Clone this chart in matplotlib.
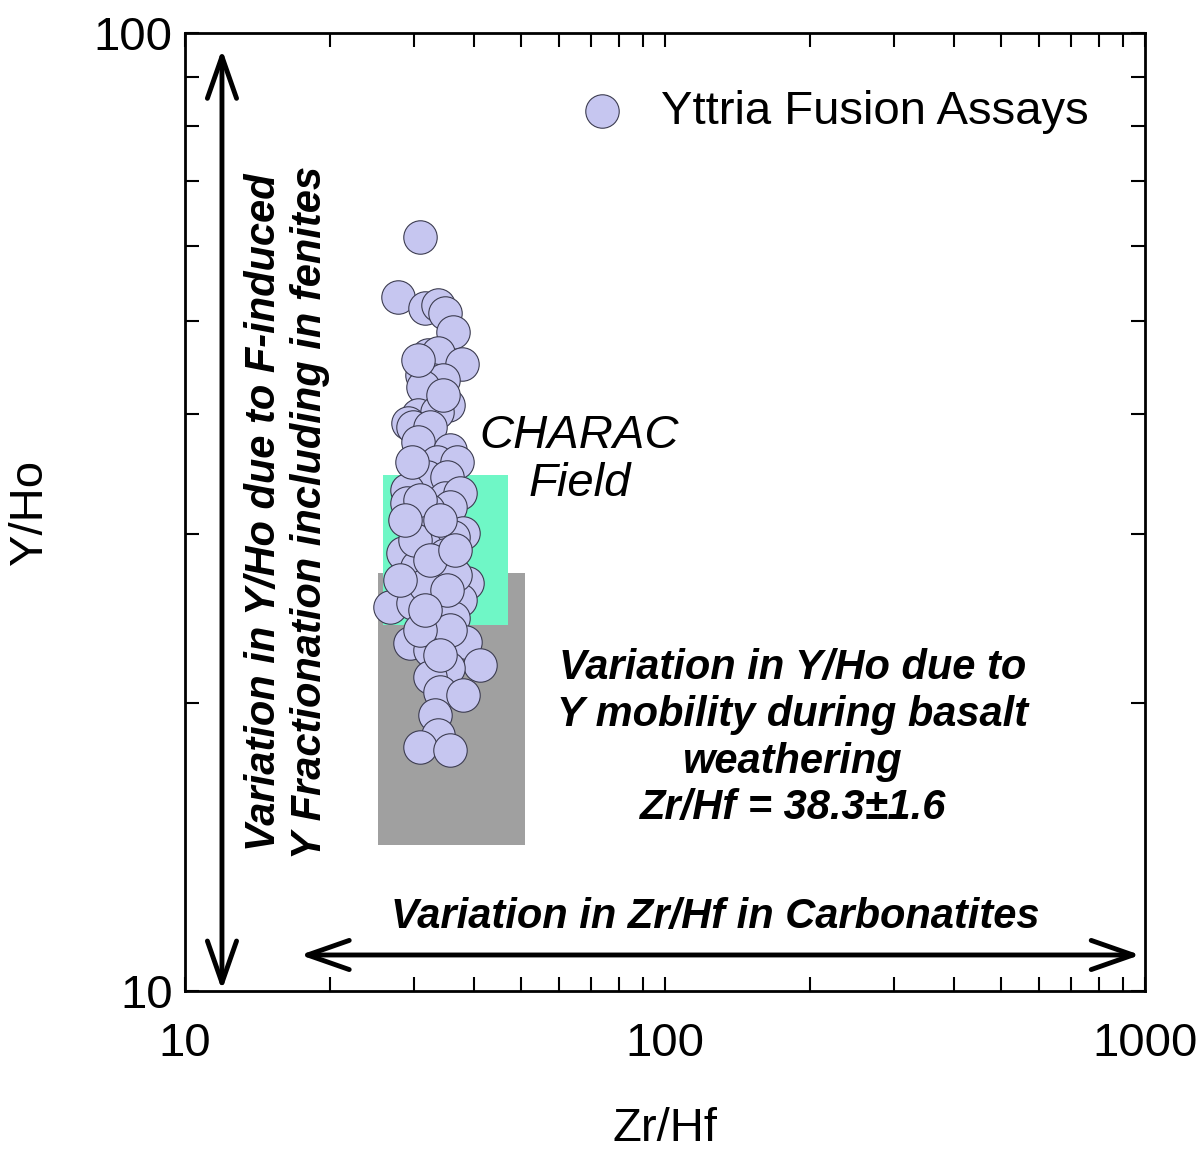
import numpy as np
import matplotlib
matplotlib.use("Agg")
import matplotlib.pyplot as plt
from matplotlib.patches import Rectangle
from matplotlib.ticker import NullFormatter

plt.rcParams['font.family'] = ['Liberation Sans', 'DejaVu Sans']

# Yttria fusion assays (Zr/Hf, Y/Ho)
zr_hf = [30.87, 27.79, 31.62, 33.66, 34.81, 36.17, 32.08, 33.66, 37.77, 31.17,
         32.86, 34.48, 31.32, 35.32, 30.58, 33.50, 29.15, 29.85, 32.39, 30.58,
         35.66, 33.50, 36.87, 31.92, 35.15, 29.01, 34.81, 37.41, 29.01, 35.66,
         30.58, 37.95, 36.17, 31.62, 28.46, 33.98, 30.43, 35.66, 38.68, 29.01,
         33.50, 26.73, 29.85, 33.98, 37.41, 33.17, 36.17, 29.43, 32.39, 38.31,
         41.17, 35.32, 32.39, 33.98, 37.95, 33.17, 33.66, 30.87, 35.66,
         32.08, 34.81, 31.62, 36.52, 30.14, 35.66, 30.87, 33.98, 29.71, 28.05,
         30.58, 34.48, 30.87, 33.98, 32.39, 35.15, 31.62, 28.73, 36.52]
y_ho = [61.24, 53.03, 51.64, 52.02, 51.03, 48.74, 46.12, 46.35, 45.14, 43.96,
        43.43, 43.43, 42.70, 40.90, 39.94, 40.22, 39.17, 38.80, 38.80, 37.42,
        36.71, 35.67, 35.67, 34.40, 34.40, 33.34, 32.71, 33.11, 32.32, 32.01,
        30.65, 30.07, 29.79, 29.08, 28.66, 27.98, 27.71, 27.65, 26.67, 26.41,
        26.22, 25.17, 25.41, 25.78, 25.59, 24.39, 24.51, 23.08, 22.70, 23.14,
        21.89, 21.74, 21.27, 20.52, 20.37, 19.41, 18.50, 17.98, 17.85,
        31.78, 28.52, 26.53, 27.18, 29.57, 23.82, 23.82, 22.43, 35.67, 26.86,
        45.58, 41.89, 32.55, 31.02, 28.18, 26.22, 24.99, 31.02, 28.86]

# fields: (x0, x1, y0, y1)
basalt_field = (25.2, 51.1, 14.2, 27.3)
charac_field = (25.85, 47.1, 24.1, 34.6)

fig = plt.figure(figsize=(11.99, 11.51), dpi=100)
ax = fig.add_axes([0.1543, 0.139, 0.8007, 0.8323])
ax.set_xscale('log')
ax.set_yscale('log')
ax.set_xlim(10, 1000)
ax.set_ylim(10, 100)

x0, x1, y0, y1 = basalt_field
ax.add_patch(Rectangle((x0, y0), x1 - x0, y1 - y0, facecolor='#a0a0a0', edgecolor='none', zorder=1))
x0, x1, y0, y1 = charac_field
ax.add_patch(Rectangle((x0, y0), x1 - x0, y1 - y0, facecolor='#6ff7c6', edgecolor='none', zorder=2))

ax.scatter(zr_hf, y_ho, s=580, facecolor='#c6c6f0', edgecolor='#3c3c50', linewidth=0.8,
           zorder=3, label='Yttria Fusion Assays')

# ticks
ax.set_xticks([10, 100, 1000])
ax.set_xticklabels(['10', '100', '1000'])
ax.set_yticks([10, 100])
ax.set_yticklabels(['10', '100'])
ax.xaxis.set_minor_formatter(NullFormatter())
ax.yaxis.set_minor_formatter(NullFormatter())
ax.tick_params(which='both', direction='in', top=True, right=True, length=10, width=1.5)
ax.tick_params(axis='x', which='major', labelsize=34, pad=22)
ax.tick_params(axis='y', which='major', labelsize=34, pad=9)
for sp in ax.spines.values():
    sp.set_linewidth(2)

ax.set_xlabel('Zr/Hf', fontsize=34, labelpad=30)
ax.set_ylabel('Y/Ho', fontsize=34, labelpad=30)

# arrows
arrow_style = '<->,head_length=3.0,head_width=1.05'
ax.annotate('', xy=(0.0385, 0.983), xytext=(0.0385, 0.001), xycoords='axes fraction',
            arrowprops=dict(arrowstyle=arrow_style, lw=3.5, color='black',
                            shrinkA=0, shrinkB=0))
ax.annotate('', xy=(0.995, 0.0376), xytext=(0.12, 0.0376), xycoords='axes fraction',
            arrowprops=dict(arrowstyle=arrow_style, lw=3.5, color='black',
                            shrinkA=0, shrinkB=0))

# annotations
ax.text(0.106, 0.5, 'Variation in Y/Ho due to F-induced\nY Fractionation including in fenites',
        transform=ax.transAxes, rotation=90, ha='center', va='center', fontsize=30,
        fontweight='bold', fontstyle='italic', linespacing=1.2)
ax.text(0.411, 0.554, 'CHARAC\nField', transform=ax.transAxes, ha='center', va='center',
        fontsize=34, fontstyle='italic', linespacing=1.12)
ax.text(0.633, 0.264, 'Variation in Y/Ho due to\nY mobility during basalt\nweathering\nZr/Hf = 38.3±1.6',
        transform=ax.transAxes, ha='center', va='center', fontsize=30,
        fontweight='bold', fontstyle='italic', linespacing=1.22)
ax.text(0.552, 0.0772, 'Variation in Zr/Hf in Carbonatites', transform=ax.transAxes,
        ha='center', va='center', fontsize=30, fontweight='bold', fontstyle='italic')

ax.legend(loc='upper right', frameon=False, fontsize=34, scatterpoints=1,
          handlelength=1.0, handletextpad=0.75, borderaxespad=0.8)

fig.savefig('out.png', dpi=100)
